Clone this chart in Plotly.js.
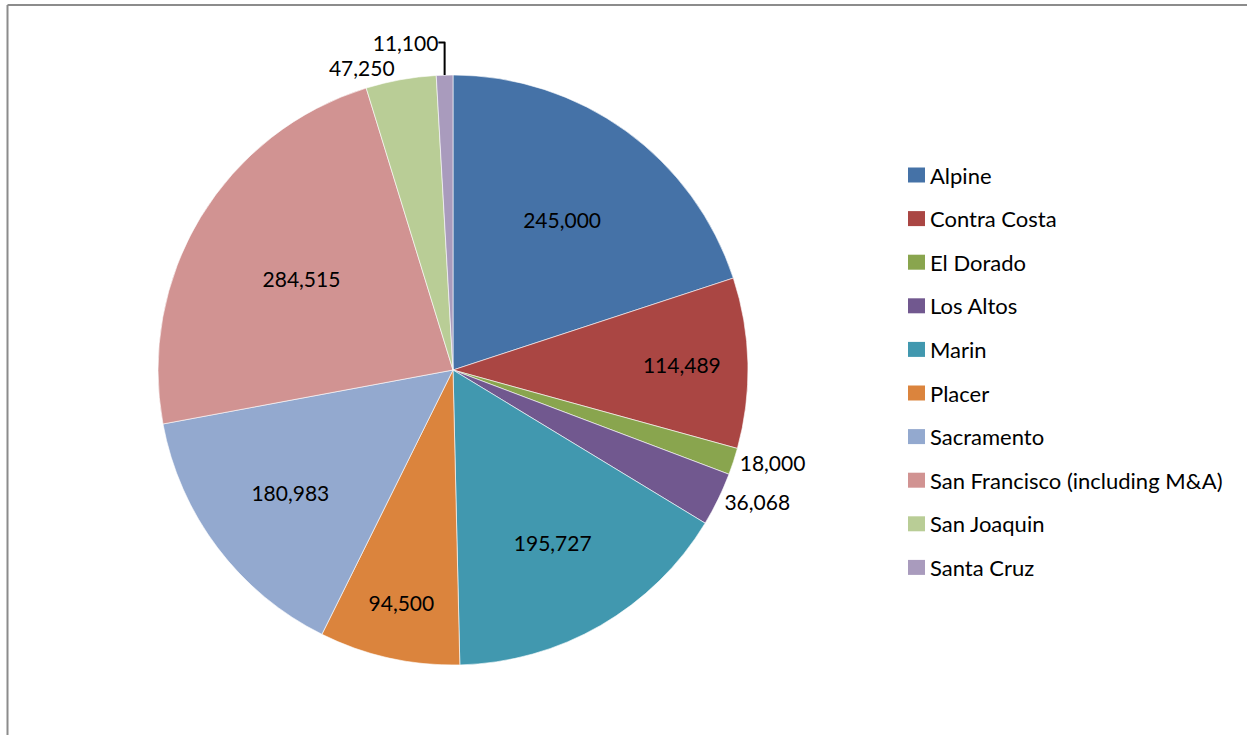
<!DOCTYPE html>
<html>
<head>
<meta charset="utf-8">
<script src="https://cdn.plot.ly/plotly-3.0.1.min.js"></script>
<style>html,body{margin:0;padding:0;background:#fff;}#chart{width:1247px;height:735px;}</style>
</head>
<body>
<div id="chart"></div>
<script>
const categories = ["Alpine", "Contra Costa", "El Dorado", "Los Altos", "Marin", "Placer", "Sacramento", "San Francisco (including M&A)", "San Joaquin", "Santa Cruz"];
const values = [245000, 114489, 18000, 36068, 195727, 94500, 180983, 284515, 47250, 11100];
const colors = ["#4572A7", "#AA4643", "#89A54E", "#71588F", "#4198AF", "#DB843D", "#93A9CF", "#D19392", "#B9CD96", "#A99BBD"];

const W = 1247, H = 735;
const total = values.reduce((a, b) => a + b, 0);
const textpos = values.map(v => (v / total < 0.05 ? "outside" : "inside"));
const labelsText = values.map(v => v.toLocaleString("en-US"));

const font = "Lato, 'Open Sans', sans-serif";

const trace = {
  type: "pie",
  labels: categories,
  values: values,
  text: labelsText,
  textinfo: "text",
  textposition: textpos,
  insidetextorientation: "horizontal",
  sort: false,
  direction: "clockwise",
  rotation: 0,
  marker: { colors: colors, line: { color: "#ffffff", width: 0.6 } },
  textfont: { family: font, size: 21, color: "#000000" },
  insidetextfont: { family: font, size: 21, color: "#000000" },
  outsidetextfont: { family: font, size: 21, color: "#000000" },
  hoverinfo: "label+value",
  domain: { x: [158 / W, 748 / W], y: [1 - 665 / H, 1 - 75 / H] },
  automargin: false
};

const shapes = [
  { type: "line", xref: "paper", yref: "paper", x0: 7.5 / W, x1: 1.01, y0: 1 - 5 / H, y1: 1 - 5 / H, line: { color: "#8c8c8c", width: 2 } },
  { type: "line", xref: "paper", yref: "paper", x0: 7.5 / W, x1: 7.5 / W, y0: 1 - 5 / H, y1: -0.01, line: { color: "#8c8c8c", width: 2 } }
];
const annotations = [];
const legTop = 175, legStep = 43.6;
categories.forEach((c, i) => {
  const cy = legTop + i * legStep;
  shapes.push({ type: "rect", xref: "paper", yref: "paper", x0: 908 / W, x1: 925 / W, y0: 1 - (cy - 7.5) / H, y1: 1 - (cy + 7.5) / H, fillcolor: colors[i], line: { width: 0 } });
  annotations.push({ xref: "paper", yref: "paper", x: 928 / W, y: 1 - cy / H, xanchor: "left", yanchor: "middle", text: c, showarrow: false, font: { family: font, size: 22, color: "#000000" } });
});

const layout = {
  width: W, height: H,
  margin: { l: 0, r: 0, t: 0, b: 0 },
  paper_bgcolor: "#ffffff",
  showlegend: false,
  shapes: shapes,
  annotations: annotations
};

Plotly.newPlot("chart", [trace], layout, { displayModeBar: false, staticPlot: true });
</script>
</body>
</html>
